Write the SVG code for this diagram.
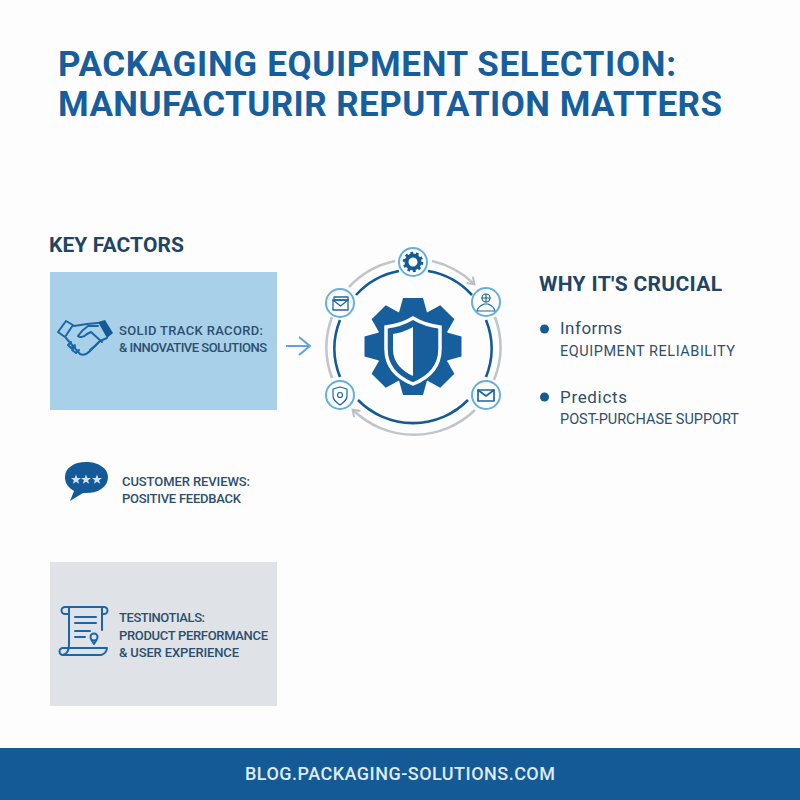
<svg xmlns="http://www.w3.org/2000/svg" width="800" height="800" viewBox="0 0 800 800">
<style>
text{font-family:Roboto,"Liberation Sans",sans-serif}
.title{font-size:35px;font-weight:700;fill:#165e9c}
.h{font-size:21px;font-weight:700;fill:#1f4464}
.s{font-size:13px;font-weight:500;fill:#2c4f6e}
.why{font-size:17px;fill:#2f4f6c}
.sub{font-size:14.5px;fill:#2f4f6c}
.ic{fill:none;stroke:#1a66a6;stroke-width:2;stroke-linecap:round;stroke-linejoin:round}
.nc{fill:#fff;stroke:#65afdd;stroke-width:2}
.bl{fill:none;stroke:#135a96;stroke-width:2.6}
.gr{fill:none;stroke:#c2c6c9;stroke-width:2.6}
</style>
<defs>
<marker id="ga" markerWidth="12" markerHeight="12" refX="7" refY="5" orient="auto" markerUnits="userSpaceOnUse"><path d="M1 0.5L7.5 5L1 9.500" fill="none" stroke="#b9bec2" stroke-width="2"/></marker>
<path id="tooth" d="M-14 -34L-10 -48.500H10L14 -34Z" fill="#165e9c"/>
</defs>
<rect width="800" height="800" fill="#fdfdfe"/>
<g id="title">
<text class="title" x="58" y="76" textLength="618">PACKAGING EQUIPMENT SELECTION:</text>
<text class="title" x="58" y="116" textLength="664">MANUFACTURIR REPUTATION MATTERS</text>
</g>
<text class="h" x="49" y="252" textLength="135">KEY FACTORS</text>
<g id="factor-track">
<rect x="50" y="272" width="227" height="138" fill="#a8d1e9"/>
<g class="ic">
<path d="M66 321L73 325L65 337L58 332Z"/>
<path d="M74 326L87 324L98 323"/>
<path d="M107 338L100 341L90 351C87 354 84 356 80 354L66 338"/>
<path d="M98 326H88C85 328 80 333 78 336C80 338 84 337 87 334L91 332L102 342"/>
<path d="M71 342L68 345L71 348L75 345M75 347L72 350L76 353L79 350M96 345L90 350M100 341L94 347"/>
</g>
<path d="M98 322L105 320L113 333L107 338Z" fill="#135a96"/>
<text class="s" x="119" y="335" textLength="144">SOLID TRACK RACORD:</text>
<text class="s" x="119" y="352" textLength="148">&amp; INNOVATIVE SOLUTIONS</text>
</g>
<g id="factor-reviews">
<path d="M86 462C74 462 65 468 65 477C65 484 69 488 74 491L70 501L83 493C98 494 108 487 108 477C108 468 98 462 86 462Z" fill="#135a96"/>
<g fill="#cfe2f1"><path d="M76 474.500L77.300 478L81 478L78.100 480.200L79.100 483.800L76 481.700L72.900 483.800L73.900 480.200L71 478L74.700 478Z"/>
<path d="M86 474.500L87.300 478L91 478L88.100 480.200L89.100 483.800L86 481.700L82.900 483.800L83.900 480.200L81 478L84.700 478Z"/>
<path d="M97 474.500L98.300 478L102 478L99.100 480.200L100.100 483.800L97 481.700L93.900 483.800L94.900 480.200L92 478L95.700 478Z"/></g>
<text class="s" x="122" y="486" textLength="128">CUSTOMER REVIEWS:</text>
<text class="s" x="122" y="503" textLength="119">POSITIVE FEEDBACK</text>
</g>
<g id="factor-testimonials">
<rect x="50" y="562" width="227" height="144" fill="#dfe3e7"/>
<g class="ic">
<path d="M69 614H65A3.500 3.500 0 0 1 65 607H104A3.500 3.500 0 0 1 104 614H102"/>
<path d="M69 607V645C69 650 67 654 63 655H101C105 654 106.500 652 107 648H69"/>
<path d="M63 655A3.500 3.500 0 0 1 63 648H69"/>
<path d="M102 607V630M75 617H96M75 623H96M75 631H90M75 637H85"/>
<circle cx="94" cy="637" r="3.500"/><path d="M91.500 640L94 644L96.500 640"/>
</g>
<text class="s" x="119" y="622" textLength="86">TESTINOTIALS:</text>
<text class="s" x="119" y="640" textLength="149">PRODUCT PERFORMANCE</text>
<text class="s" x="119" y="657" textLength="120">&amp; USER EXPERIENCE</text>
</g>
<g id="connectors">
<path d="M286 346H309M299 337L310 346L299 355" fill="none" stroke="#5ba6d6" stroke-width="2"/>
<path class="gr" d="M349 287A87.500 87.500 0 0 1 395 261"/>
<path class="gr" d="M432 261A87.500 87.500 0 0 1 474 284" marker-end="url(#ga)"/>
<path class="gr" d="M495 317A87.500 87.500 0 0 1 494 380"/>
<path class="gr" d="M475 410A87.500 87.500 0 0 1 353 410" marker-end="url(#ga)"/>
<path class="gr" d="M332 378A87.500 87.500 0 0 1 332 317"/>
<path class="bl" d="M356 295A77 77 0 0 1 399 271"/>
<path class="bl" d="M428 271A77 77 0 0 1 472 295"/>
<path class="bl" d="M486 320A77 77 0 0 1 486 377"/>
<path class="bl" d="M468 400A77 77 0 0 1 358 400"/>
<path class="bl" d="M340 377A77 77 0 0 1 340 320"/>
</g>
<g id="hub">
<g transform="translate(413 346.500)">
<circle r="37" fill="#165e9c"/>
<use href="#tooth"/>
<use href="#tooth" transform="rotate(45)"/>
<use href="#tooth" transform="rotate(90)"/>
<use href="#tooth" transform="rotate(135)"/>
<use href="#tooth" transform="rotate(180)"/>
<use href="#tooth" transform="rotate(225)"/>
<use href="#tooth" transform="rotate(270)"/>
<use href="#tooth" transform="rotate(315)"/>
</g>
<path fill="none" stroke="#fff" stroke-width="3.500" d="M413 318C403 324 395 326 386 327V349C386 367 398 378 413 384C428 378 440 367 440 349V327C431 326 423 324 413 318Z"/>
<path fill="#fff" d="M413 327C405 331 400 333 393 334V350C393 362 402 371 413 376Z"/>
</g>
<g id="node-top">
<circle class="nc" cx="413" cy="262" r="14"/>
<circle cx="413" cy="262" r="6.500" fill="none" stroke="#135a96" stroke-width="4"/>
<circle cx="413" cy="262" r="9" fill="none" stroke="#135a96" stroke-width="2.500" stroke-dasharray="2.800 2.850"/>
</g>
<g id="node-right">
<circle class="nc" cx="486" cy="302" r="14"/>
<g class="ic" style="stroke-width:1.200"><circle cx="486" cy="298" r="4"/><path d="M486 294V302M482 298H490M477 311C478 306 482 305 484 304H488C490 305 494 306 495 311Z"/></g>
</g>
<g id="node-lr">
<circle class="nc" cx="486" cy="395" r="14"/>
<g class="ic" style="stroke-width:1.700"><rect x="478" y="390" width="16" height="11"/><path d="M478 390L486 396L494 390"/></g>
</g>
<g id="node-ll">
<circle class="nc" cx="340" cy="395" r="14"/>
<g class="ic" style="stroke-width:1.200"><path d="M340 387L347 389V396C347 400 344 402 340 405C336 402 333 400 333 396V389Z"/><circle cx="340" cy="395" r="2.500"/></g>
</g>
<g id="node-ul">
<circle class="nc" cx="340" cy="303" r="14"/>
<g class="ic" style="stroke-width:1.300"><rect x="334" y="297" width="14" height="3"/><rect x="333" y="300" width="15" height="10"/><path d="M333 300L340.500 306L348 300"/></g>
</g>
<g id="why">
<text class="h" x="539" y="291" textLength="183">WHY IT'S CRUCIAL</text>
<circle cx="544.500" cy="329" r="4.500" fill="#135a96"/>
<text class="why" x="560" y="334" textLength="62">Informs</text>
<text class="sub" x="560" y="355.500" textLength="175">EQUIPMENT RELIABILITY</text>
<circle cx="544.500" cy="397" r="4.500" fill="#135a96"/>
<text class="why" x="560" y="403" textLength="67">Predicts</text>
<text class="sub" x="560" y="424" textLength="179">POST-PURCHASE SUPPORT</text>
</g>
<g id="footer">
<rect y="748" width="800" height="52" fill="#135a96"/>
<text x="245" y="780" textLength="310" font-size="18" font-weight="500" fill="#dcebf6">BLOG.PACKAGING-SOLUTIONS.COM</text>
</g>
</svg>
